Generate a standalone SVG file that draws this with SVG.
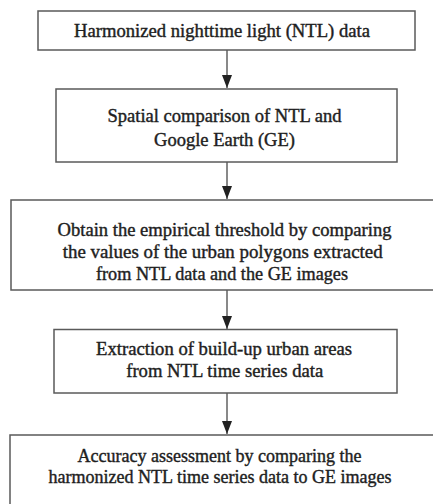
<svg xmlns="http://www.w3.org/2000/svg" width="433" height="504" viewBox="0 0 433 504">
<style>
.box{fill:#fff;stroke:#5a5a5a;stroke-width:1.5}
.t{font-family:"Liberation Serif","Times New Roman",serif;font-size:18px;fill:#1e1e1e;stroke:#1e1e1e;stroke-width:0.4;text-anchor:middle}
.c{stroke:#4a4a4a;stroke-width:1.3;fill:none}
</style>
<defs>
<marker id="ah" markerUnits="userSpaceOnUse" markerWidth="14" markerHeight="12" refX="13" refY="5" orient="auto">
<path d="M0,0 L13,5 L0,10 z" fill="#222"/>
</marker>
</defs>
<rect width="433" height="504" fill="#fff"/>
<g id="connectors">
<line class="c" x1="227" y1="50" x2="227" y2="88" marker-end="url(#ah)"/>
<line class="c" x1="227" y1="162" x2="227" y2="199" marker-end="url(#ah)"/>
<line class="c" x1="227" y1="290" x2="227" y2="329" marker-end="url(#ah)"/>
<line class="c" x1="227" y1="393" x2="227" y2="434" marker-end="url(#ah)"/>
</g>
<g id="n1">
<rect class="box" x="38" y="11" width="377" height="39"/>
<text class="t" x="222" y="36.5" textLength="296" lengthAdjust="spacingAndGlyphs">Harmonized nighttime light (NTL) data</text>
</g>
<g id="n2">
<rect class="box" x="56" y="89" width="341" height="73"/>
<text class="t" x="224.5" y="121.5" textLength="234" lengthAdjust="spacingAndGlyphs">Spatial comparison of NTL and</text>
<text class="t" x="224.5" y="146" textLength="141" lengthAdjust="spacingAndGlyphs">Google Earth (GE)</text>
</g>
<g id="n3">
<rect class="box" x="11" y="200" width="430" height="90"/>
<text class="t" x="224.5" y="236" textLength="334" lengthAdjust="spacingAndGlyphs">Obtain the empirical threshold by comparing</text>
<text class="t" x="222.7" y="258" textLength="320" lengthAdjust="spacingAndGlyphs">the values of the urban polygons extracted</text>
<text class="t" x="222" y="280" textLength="252" lengthAdjust="spacingAndGlyphs">from NTL data and the GE images</text>
</g>
<g id="n4">
<rect class="box" x="54" y="329.5" width="343" height="63.5"/>
<text class="t" x="224" y="355" textLength="256" lengthAdjust="spacingAndGlyphs">Extraction of build-up urban areas</text>
<text class="t" x="224.7" y="377" textLength="197" lengthAdjust="spacingAndGlyphs">from NTL time series data</text>
</g>
<g id="n5">
<rect class="box" x="10" y="435" width="430" height="80"/>
<text class="t" x="219.5" y="462" textLength="284" lengthAdjust="spacingAndGlyphs">Accuracy assessment by comparing the</text>
<text class="t" x="220" y="483" textLength="343" lengthAdjust="spacingAndGlyphs">harmonized NTL time series data to GE images</text>
</g>
</svg>
